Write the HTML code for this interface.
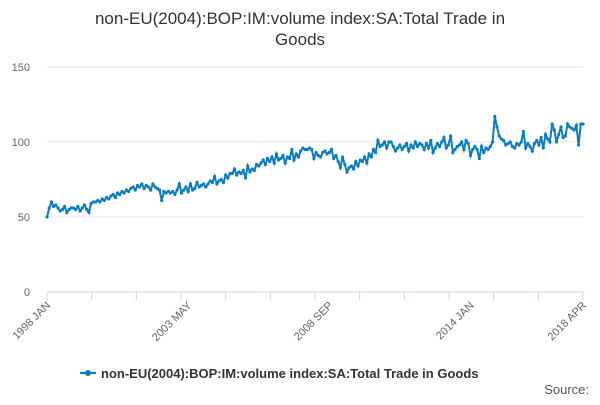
<!DOCTYPE html>
<html><head><meta charset="utf-8"><style>
body{margin:0;background:#fff;font-family:"Liberation Sans",sans-serif}
svg text{font-family:"Liberation Sans",sans-serif}
</style></head><body>
<svg width="600" height="400" viewBox="0 0 600 400" id="c">
<text x="300" y="24" text-anchor="middle" font-size="17" fill="#333">non-EU(2004):BOP:IM:volume index:SA:Total Trade in</text>
<text x="300" y="45" text-anchor="middle" font-size="17" fill="#333">Goods</text>
<g id="grid"></g>
<g id="xa"></g>
<path id="ln" fill="none" stroke="#0a7dc2" stroke-width="2"/>
<g id="pts"></g>
<g>
<line x1="80" y1="373" x2="96" y2="373" stroke="#0a7dc2" stroke-width="2"/>
<circle cx="88" cy="373" r="3" fill="#0a7dc2"/>
<text x="101" y="378" font-size="13" font-weight="bold" fill="#333">non-EU(2004):BOP:IM:volume index:SA:Total Trade in Goods</text>
</g>
<text x="589" y="394" text-anchor="end" font-size="13" fill="#555">Source:</text>
</svg>
<script>
const yTicks=[0,50,100,150];
const xLabels=["1998 JAN","2003 MAY","2008 SEP","2014 JAN","2018 APR"];
const xLabelIdx=[0,64,128,192,243];
const values=[
50,56,60,57,58,56,54,55,57,53,55,56,
56,55,57,54,56,58,55,53,59,60,60,61,
60,62,61,63,62,64,65,63,66,65,67,66,
68,67,69,70,68,71,70,72,69,71,70,68,
72,70,69,68,61,67,66,67,66,67,65,68,
72,66,68,70,67,72,68,69,73,70,71,72,
70,72,74,73,77,72,74,75,73,78,76,79,
79,82,78,80,79,81,76,84,80,82,81,85,
84,86,88,85,89,87,90,86,92,88,89,91,
86,90,89,95,88,92,90,94,96,95,95,96,
95,89,93,91,90,93,94,92,93,95,89,91,
87,83,90,85,80,83,84,82,87,84,88,87,
90,86,92,90,95,93,101,97,98,100,96,100,
100,97,94,96,98,95,97,99,94,98,96,100,
97,99,98,95,99,96,101,93,96,99,97,100,
103,96,98,104,93,95,97,98,100,95,101,99,
91,95,97,95,89,97,93,96,95,97,100,117,
110,104,102,101,98,99,100,97,96,99,98,100,
107,96,99,97,94,99,101,98,103,96,105,102,
100,112,108,100,105,110,103,104,112,110,109,108,
111,98,112,112
];
const N=values.length;
const x0=47,x1=583,yb=292,yt=67,vmax=150;
const X=i=>x0+(x1-x0)*i/(N-1);
const Y=v=>yb-(yb-yt)*v/vmax;
const ns="http://www.w3.org/2000/svg";
const g=document.getElementById('grid');
yTicks.forEach(t=>{
 const l=document.createElementNS(ns,'line');
 
 
 l.setAttribute('x1',x0);l.setAttribute('x2',x1);l.setAttribute('y1',Y(t));l.setAttribute('y2',Y(t));
 l.setAttribute('stroke',t===0?'#ccd6eb':'#e6e6e6');g.appendChild(l);
 const tx=document.createElementNS(ns,'text');
 
 
 tx.setAttribute('x',30);tx.setAttribute('y',Y(t)+4);tx.setAttribute('text-anchor','end');
 tx.setAttribute('font-size','11');tx.setAttribute('fill','#666');tx.textContent=t;g.appendChild(tx);
});
const xa=document.getElementById('xa');
for(let k=0;k<=12;k++){
 const i=Math.min(N-1,k*(N-1)/12);
 const l=document.createElementNS(ns,'line');
 
 
 l.setAttribute('x1',X(i));l.setAttribute('x2',X(i));l.setAttribute('y1',yb);l.setAttribute('y2',yb+8);
 l.setAttribute('stroke','#ccd6eb');xa.appendChild(l);
}
xLabels.forEach((s,j)=>{
 const tx=document.createElementNS(ns,'text');
 
 
 const x=X(xLabelIdx[j])+4,y=yb+14;
 tx.setAttribute('x',x);tx.setAttribute('y',y);tx.setAttribute('text-anchor','end');
 tx.setAttribute('transform','rotate(-45 '+x+' '+y+')');
 tx.setAttribute('font-size','11');tx.setAttribute('fill','#666');tx.textContent=s;xa.appendChild(tx);
});
let d='';values.forEach((v,i)=>{d+=(i?'L':'M')+X(i).toFixed(1)+' '+Y(v).toFixed(1);});
document.getElementById('ln').setAttribute('d',d);
const pts=document.getElementById('pts');
values.forEach((v,i)=>{
 const c=document.createElementNS(ns,'circle');
 
 
 c.setAttribute('cx',X(i));c.setAttribute('cy',Y(v));c.setAttribute('r',1.6);c.setAttribute('fill','#0a7dc2');
 pts.appendChild(c);
});
</script>
</body></html>
